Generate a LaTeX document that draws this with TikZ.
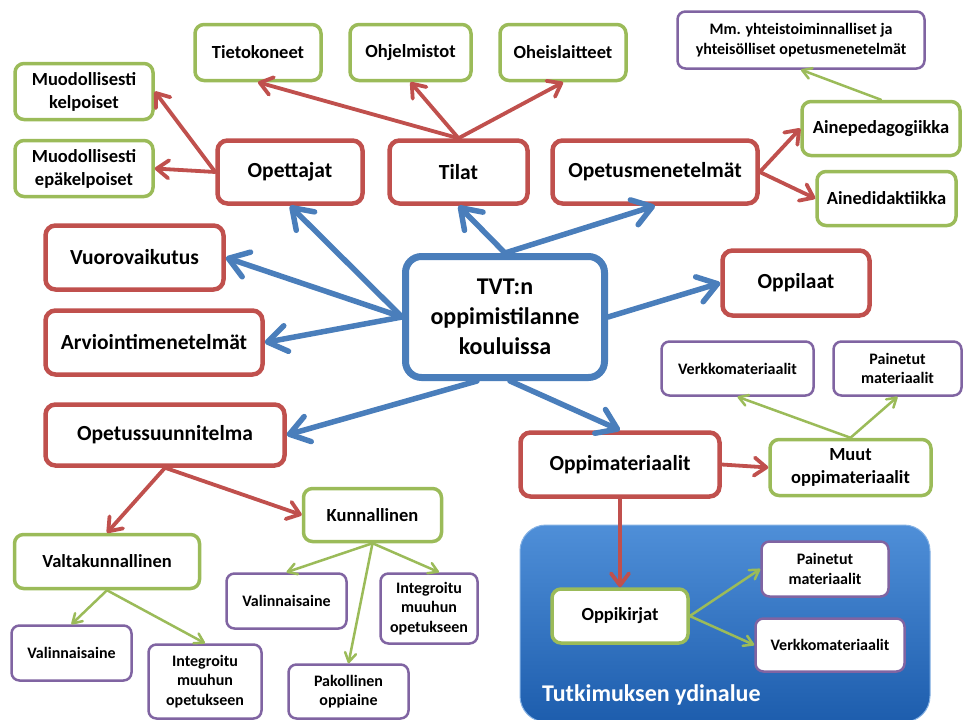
\documentclass[tikz,border=0pt]{standalone}
\usepackage{fontspec}
\setmainfont{Carlito}
\usepackage{xcolor}
\usetikzlibrary{arrows.meta}

\definecolor{hubblue}{HTML}{4A7EBB}
\definecolor{topicred}{HTML}{C0504D}
\definecolor{subgreen}{HTML}{9BBB59}
\definecolor{leafpurple}{HTML}{8064A2}
\definecolor{coretop}{HTML}{4F8FD8}
\definecolor{corebottom}{HTML}{1D5DAD}

\begin{document}
\begin{tikzpicture}[
  x=1pt, y=-1pt,
  hubbox/.style={draw=hubblue, line width=7pt, rounded corners=16pt, fill=white, align=center, font=\bfseries\fontsize{24}{30}\selectfont},
  topicbox/.style={draw=topicred, line width=4.5pt, rounded corners=10pt, fill=white, align=center, font=\bfseries\fontsize{21.5}{26}\selectfont},
  subbox/.style={draw=subgreen, line width=3.5pt, rounded corners=9pt, fill=white, align=center, font=\bfseries\fontsize{18.5}{23}\selectfont},
  leafbox/.style={draw=leafpurple, line width=2.5pt, rounded corners=8pt, fill=white, align=center, font=\bfseries\fontsize{16}{19.5}\selectfont},
  corebox/.style={rounded corners=26pt, top color=coretop, bottom color=corebottom, draw=coretop!70!white, line width=1pt},
  hubarrow/.style={hubblue, line width=5.5pt, line cap=round, -{Straight Barb[length=19pt,width=26pt,round]}},
  topicarrow/.style={topicred, line width=3.8pt, line cap=round, -{Straight Barb[length=12pt,width=18pt,round]}},
  subarrow/.style={subgreen, line width=2.5pt, line cap=round, -{Straight Barb[length=9pt,width=11pt,round]}}
]
\useasboundingbox (0,0) rectangle (964,720);
\fill[white] (0,0) rectangle (964,720);

% core area
\node[corebox, minimum width=410pt, minimum height=197pt] (ydin) at (725,623.5) {};
\node[anchor=base west, text=white, font=\bfseries\fontsize{24}{28}\selectfont, inner sep=0pt] (ydinlabel) at (542,701) {Tutkimuksen ydinalue};

\node[hubbox, minimum width=199pt, minimum height=121pt] (tvt) at (505,317) {TVT:n\\oppimistilanne\\kouluissa};

\node[topicbox, minimum width=145pt, minimum height=63pt] (opettajat) at (290,172) {Opettajat};
\node[topicbox, minimum width=138pt, minimum height=63pt] (tilat) at (458.5,172) {Tilat};
\node[topicbox, minimum width=205pt, minimum height=63pt] (opetusmenetelmat) at (655,172) {Opetusmenetelmät};
\node[topicbox, minimum width=178pt, minimum height=64pt] (vuorovaikutus) at (134.5,257.5) {Vuorovaikutus};
\node[topicbox, minimum width=217pt, minimum height=64pt] (arviointi) at (154,342.5) {Arviointimenetelmät};
\node[topicbox, minimum width=147pt, minimum height=65pt] (oppilaat) at (796,283) {Oppilaat};
\node[topicbox, minimum width=239pt, minimum height=61pt] (opetussuunnitelma) at (165,435) {Opetussuunnitelma};
\node[topicbox, minimum width=199pt, minimum height=64pt] (oppimateriaalit) at (620,464.5) {Oppimateriaalit};

\node[subbox, minimum width=126pt, minimum height=56pt] (tietokoneet) at (258,52.5) {Tietokoneet};
\node[subbox, minimum width=121pt, minimum height=56pt] (ohjelmistot) at (410.5,52.5) {Ohjelmistot};
\node[subbox, minimum width=126pt, minimum height=56pt] (oheislaitteet) at (563,52.5) {Oheislaitteet};
\node[subbox, minimum width=138pt, minimum height=56pt] (kelpoiset) at (84,91.5) {Muodollisesti\\kelpoiset};
\node[subbox, minimum width=138pt, minimum height=56pt] (epakelpoiset) at (84,168.5) {Muodollisesti\\epäkelpoiset};
\node[subbox, minimum width=158pt, minimum height=54pt] (ainepedagogiikka) at (881,128.5) {Ainepedagogiikka};
\node[subbox, minimum width=139pt, minimum height=54pt] (ainedidaktiikka) at (886.5,198.5) {Ainedidaktiikka};
\node[subbox, minimum width=161pt, minimum height=56pt] (muut) at (850.5,467.5) {Muut\\oppimateriaalit};
\node[subbox, minimum width=136pt, minimum height=54pt] (oppikirjat) at (620,616) {Oppikirjat};
\node[subbox, minimum width=185pt, minimum height=54pt] (valtakunnallinen) at (107,561.5) {Valtakunnallinen};
\node[subbox, minimum width=138pt, minimum height=53pt] (kunnallinen) at (372.5,515) {Kunnallinen};

\node[leafbox, minimum width=247pt, minimum height=57pt] (mm) at (801,40) {Mm. yhteistoiminnalliset ja\\yhteisölliset opetusmenetelmät};
\node[leafbox, minimum width=152pt, minimum height=54pt] (verkko1) at (737.5,368.5) {Verkkomateriaalit};
\node[leafbox, minimum width=128pt, minimum height=54pt] (painetut1) at (897.5,368.5) {Painetut\\materiaalit};
\node[leafbox, minimum width=127pt, minimum height=55pt] (painetut2) at (825,569) {Painetut\\materiaalit};
\node[leafbox, minimum width=149pt, minimum height=53pt] (verkko2) at (830,645) {Verkkomateriaalit};
\node[leafbox, minimum width=120pt, minimum height=55pt] (valinnaisaine1) at (71.5,653) {Valinnaisaine};
\node[leafbox, minimum width=113pt, minimum height=74pt] (integroitu1) at (205,681.5) {Integroitu\\muuhun\\opetukseen};
\node[leafbox, minimum width=120pt, minimum height=55pt] (valinnaisaine2) at (286.5,601) {Valinnaisaine};
\node[leafbox, minimum width=97pt, minimum height=70pt] (integroitu2) at (429,608.5) {Integroitu\\muuhun\\opetukseen};
\node[leafbox, minimum width=120pt, minimum height=54pt] (pakollinen) at (348.5,691.5) {Pakollinen\\oppiaine};

% from the centre
\draw[hubarrow] (tvt.north) -- (tilat.south);
\draw[hubarrow] (tvt.north) -- (opetusmenetelmat.south);
\draw[hubarrow] (tvt.west) -- (opettajat.south);
\draw[hubarrow] (tvt.west) -- (vuorovaikutus.east);
\draw[hubarrow] (tvt.west) -- (arviointi.east);
\draw[hubarrow] ([xshift=-28pt]tvt.south) -- (opetussuunnitelma.east);
\draw[hubarrow] (tvt.east) -- (oppilaat.west);
\draw[hubarrow] ([xshift=5pt]tvt.south) -- (oppimateriaalit.north);

\draw[topicarrow] (opettajat.west) -- (kelpoiset.east);
\draw[topicarrow] (opettajat.west) -- (epakelpoiset.east);
\draw[topicarrow] (tilat.north) -- (tietokoneet.south);
\draw[topicarrow] (tilat.north) -- (ohjelmistot.south);
\draw[topicarrow] (tilat.north) -- (oheislaitteet.south);
\draw[topicarrow] (opetusmenetelmat.east) -- (ainepedagogiikka.west);
\draw[topicarrow] (opetusmenetelmat.east) -- (ainedidaktiikka.west);
\draw[topicarrow] (opetussuunnitelma.south) -- (valtakunnallinen.north);
\draw[topicarrow] (opetussuunnitelma.south) -- (kunnallinen.west);
\draw[topicarrow] (oppimateriaalit.east) -- (muut.west);
\draw[topicarrow] (oppimateriaalit.south) -- (oppikirjat.north);

\draw[subarrow] (ainepedagogiikka.north) -- (mm.south);
\draw[subarrow] (muut.north) -- (verkko1.south);
\draw[subarrow] (muut.north) -- (painetut1.south);
\draw[subarrow] (valtakunnallinen.south) -- (valinnaisaine1.north);
\draw[subarrow] (valtakunnallinen.south) -- (integroitu1.north);
\draw[subarrow] (kunnallinen.south) -- (valinnaisaine2.north);
\draw[subarrow] (kunnallinen.south) -- ([xshift=10pt]integroitu2.north);
\draw[subarrow] (kunnallinen.south) -- (pakollinen.north);
\draw[subarrow] (oppikirjat.east) -- (painetut2.west);
\draw[subarrow] (oppikirjat.east) -- (verkko2.west);
\end{tikzpicture}
\end{document}
